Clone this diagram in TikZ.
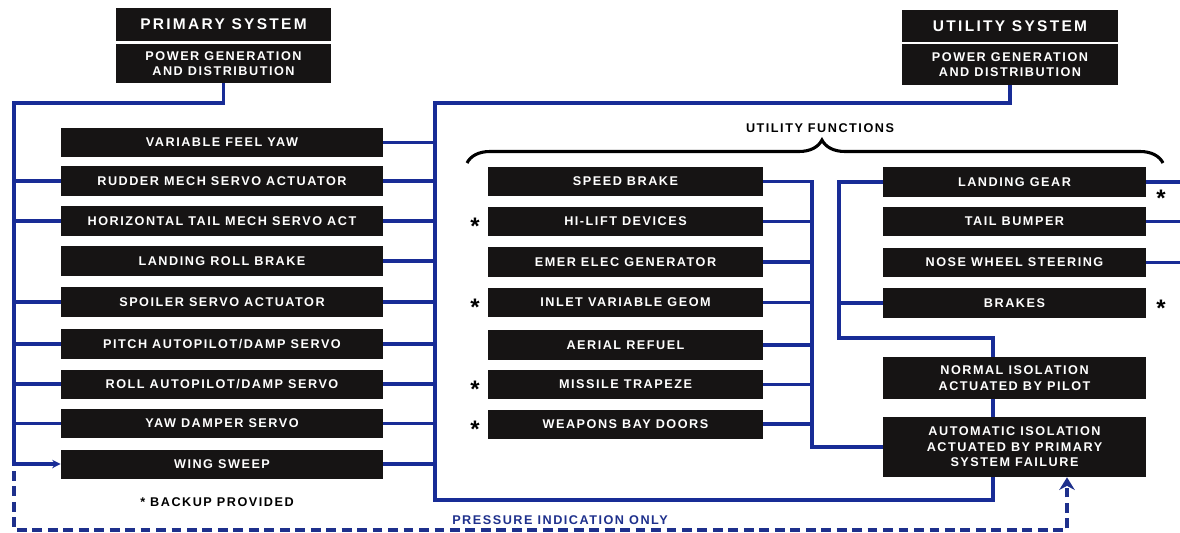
\documentclass[tikz,border=0pt]{standalone}
\usepackage{fontspec}
\usetikzlibrary{arrows.meta,decorations.pathreplacing}
\newfontfamily\stencilfam[LetterSpace=12]{Liberation Sans}
\newfontfamily\titlefam[LetterSpace=15]{Liberation Sans}
\definecolor{boxblack}{RGB}{22,20,20}
\definecolor{linkblue}{RGB}{24,44,150}
\definecolor{dashblue}{RGB}{30,48,140}
\tikzset{
	lbl/.style={font=\stencilfam\bfseries\fontsize{9}{11}\selectfont},
	box/.style={lbl, fill=boxblack, text=white, inner sep=0pt, align=center, minimum height=0.725cm},
	titlebox/.style={box, font=\titlefam\bfseries\fontsize{11}{13}\selectfont},
	lbox/.style={box, minimum width=8.05cm},
	mbox/.style={box, minimum width=6.875cm},
	rbox/.style={box, minimum width=6.575cm},
	ast/.style={font=\stencilfam\bfseries\fontsize{17}{17}\selectfont, inner sep=0pt},
	bus/.style={color=linkblue, line width=2.6pt},
	dashline/.style={color=dashblue, line width=3pt, dash pattern=on 7pt off 4pt},
	bracket/.style={decorate, decoration={brace, amplitude=0.575cm, aspect=0.51}, line width=2.2pt}
}

\begin{document}
\begin{tikzpicture}[x=0.025cm,y=-0.025cm]
			\useasboundingbox (0,0) rectangle (1180,533);
			\node[titlebox, minimum width=5.375cm, minimum height=0.825cm] (pri) at (223.5,24.5) {PRIMARY SYSTEM};
			\node[box, minimum width=5.375cm, minimum height=0.975cm] (prigen) at (223.5,63.5) {POWER GENERATION\\AND DISTRIBUTION};
			\node[titlebox, minimum width=5.4cm, minimum height=0.8cm] (uti) at (1010,26) {UTILITY SYSTEM};
			\node[box, minimum width=5.4cm, minimum height=1.025cm] (utigen) at (1010,64.5) {POWER GENERATION\\AND DISTRIBUTION};
			
			\node[lbox] (l1) at (222,142.5) {VARIABLE FEEL YAW};
			\node[lbox] (l2) at (222,181) {RUDDER MECH SERVO ACTUATOR};
			\node[lbox] (l3) at (222,221) {HORIZONTAL TAIL MECH SERVO ACT};
			\node[lbox] (l4) at (222,261) {LANDING ROLL BRAKE};
			\node[lbox] (l5) at (222,302) {SPOILER SERVO ACTUATOR};
			\node[lbox] (l6) at (222,344) {PITCH AUTOPILOT/DAMP SERVO};
			\node[lbox] (l7) at (222,384) {ROLL AUTOPILOT/DAMP SERVO};
			\node[lbox] (l8) at (222,423.5) {YAW DAMPER SERVO};
			\node[lbox] (l9) at (222,464) {WING SWEEP};
			
			\node[mbox] (m1) at (625.5,181.5) {SPEED BRAKE};
			\node[mbox] (m2) at (625.5,221.5) {HI-LIFT DEVICES};
			\node[mbox] (m3) at (625.5,262) {EMER ELEC GENERATOR};
			\node[mbox] (m4) at (625.5,302.5) {INLET VARIABLE GEOM};
			\node[mbox] (m5) at (625.5,345) {AERIAL REFUEL};
			\node[mbox] (m6) at (625.5,384.5) {MISSILE TRAPEZE};
			\node[mbox] (m7) at (625.5,424) {WEAPONS BAY DOORS};
			
			\node[rbox] (g1) at (1014.5,182) {LANDING GEAR};
			\node[rbox] (g2) at (1014.5,221.5) {TAIL BUMPER};
			\node[rbox] (g3) at (1014.5,262.5) {NOSE WHEEL STEERING};
			\node[rbox] (g4) at (1014.5,303) {BRAKES};
			\node[rbox, minimum height=1.05cm] (normiso) at (1014.5,378) {NORMAL ISOLATION\\ACTUATED BY PILOT};
			\node[rbox, minimum height=1.5cm] (autoiso) at (1014.5,447) {AUTOMATIC ISOLATION\\ACTUATED BY PRIMARY\\SYSTEM FAILURE};
			
			\node[lbl] (utifun) at (820,128) {UTILITY FUNCTIONS};
			\node[lbl] (backup) at (217,502) {* BACKUP PROVIDED};
			\node[lbl, text=dashblue] (pressure) at (560,520) {PRESSURE INDICATION ONLY};
			\foreach \n/\y in {a1/221,a2/302,a3/384,a4/424}
			\node[ast] (\n) at (475,\y+5) {*};
			\foreach \n/\y in {a5/193,a6/303}
			\node[ast] (\n) at (1161,\y+5) {*};
			
			\draw[bracket] (467,163) -- (1163,163);
			
			\coordinate (lbus) at (14,103);
			\coordinate (rbus) at (435,103);
			\coordinate (rbot) at (435,500);
			\coordinate (mbus) at (812,447);
			\coordinate (gbus) at (839,338);
			\coordinate (isox) at (993,338);
			\coordinate (redge) at (1180,182);
			\coordinate (dtop) at (14,471);
			\coordinate (dturn) at (1067,530);
			
			\begin{scope}[bus]
			\draw[-{Stealth[length=6pt,width=6pt]}] (prigen.south) |- (lbus) |- (l9.west);
			\foreach \n in {2,3,5,6,7,8}
			\draw (lbus |- l\n.west) -- (l\n.west);
			\foreach \n in {1,...,9}
			\draw (l\n.east) -- (rbus |- l\n.east);
			\draw (utigen.south) |- (rbus) -- (rbot) -| (isox |- autoiso.south);
			\draw (m1.east) -| (mbus) -- (autoiso.west);
			\foreach \n in {2,...,7}
			\draw (m\n.east) -- (mbus |- m\n.east);
			\draw (g1.west) -| (gbus) -- (isox) -- (isox |- normiso.north);
			\draw (g4.west) -- (gbus |- g4.west);
			\draw (isox |- normiso.south) -- (isox |- autoiso.north);
			\foreach \n in {1,2,3}
			\draw (g\n.east) -- (redge |- g\n.east);
			\end{scope}
			
			\draw[dashline, -{Stealth[length=9pt,width=11pt]}] (dtop) |- (dturn) -- (dturn |- autoiso.south);
\end{tikzpicture}
\end{document}
